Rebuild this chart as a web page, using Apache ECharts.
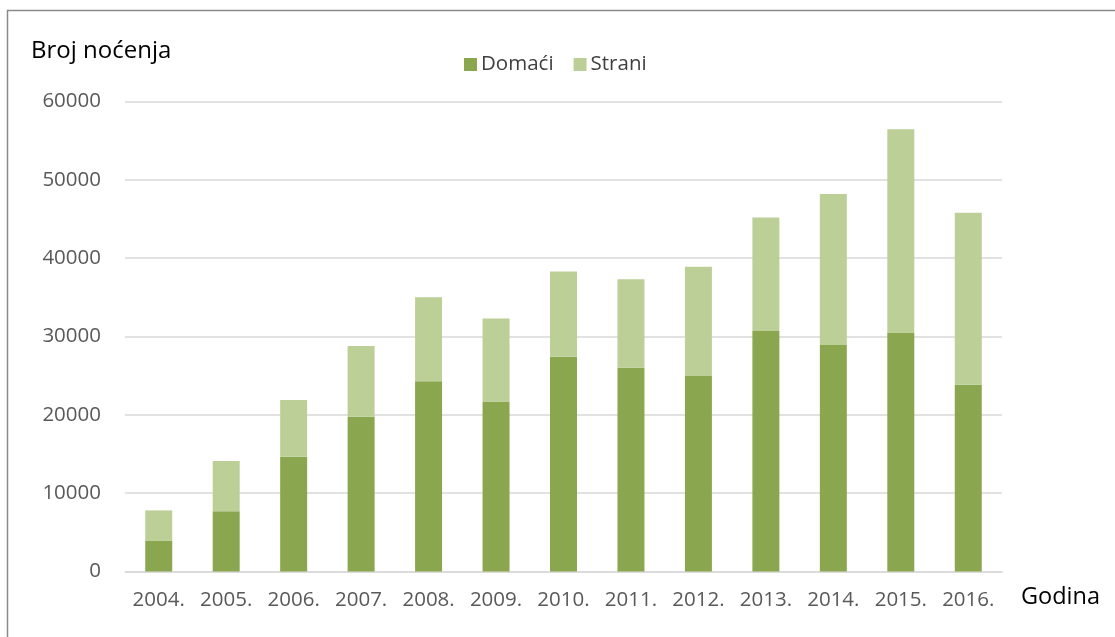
<!DOCTYPE html>
<html>
<head>
<meta charset="utf-8">
<script src="https://cdn.jsdelivr.net/npm/echarts@6/dist/echarts.min.js"></script>
<style>
html,body{margin:0;padding:0;background:#fff;}
#chart{width:1115px;height:637px;}
</style>
</head>
<body>
<div id="chart"></div>
<script>
const years = ['2004.','2005.','2006.','2007.','2008.','2009.','2010.','2011.','2012.','2013.','2014.','2015.','2016.'];
const domaci = [3900, 7700, 14650, 19750, 24300, 21700, 27400, 26000, 24950, 30700, 28900, 30500, 23850];
const strani = [3900, 6400, 7250, 9050, 10700, 10600, 10900, 11300, 13950, 14500, 19300, 25950, 21950];
const seriesNames = ['Domaći', 'Strani'];
const yTitle = 'Broj noćenja';
const xTitle = 'Godina';

const FONT = '"Open Sans", "Noto Sans", sans-serif';
const chart = echarts.init(document.getElementById('chart'), null, {renderer: 'canvas'});
chart.setOption({
  animation: false,
  backgroundColor: '#ffffff',
  grid: {left: 125, right: 113, top: 101.5, bottom: 65.5, containLabel: false},
  legend: {
    data: seriesNames,
    left: 459, top: 49,
    icon: 'rect', itemWidth: 13, itemHeight: 13, itemGap: 20,
    textStyle: {fontFamily: FONT, fontSize: 20.5, color: '#404040', padding: [0,0,0,-1]}
  },
  xAxis: {
    type: 'category', data: years,
    axisLine: {lineStyle: {color: '#d9d9d9', width: 1.5}},
    axisTick: {show: false},
    axisLabel: {fontFamily: FONT, fontSize: 20.5, color: '#595959', margin: 18, interval: 0, hideOverlap: false}
  },
  yAxis: {
    type: 'value', min: 0, max: 60000, interval: 10000,
    axisLine: {show: false}, axisTick: {show: false},
    splitLine: {lineStyle: {color: '#d9d9d9', width: 1.5}},
    axisLabel: {fontFamily: FONT, fontSize: 20.5, color: '#595959', margin: 24,
                formatter: function (v) { return String(v); }}
  },
  series: [
    {name: seriesNames[0], type: 'bar', stack: 'a', data: domaci, barWidth: '40%',
     itemStyle: {color: '#8aa64f'}},
    {name: seriesNames[1], type: 'bar', stack: 'a', data: strani, barWidth: '40%',
     itemStyle: {color: '#bbcf97'}}
  ],
  graphic: [
    {type: 'rect', shape: {x: 7.5, y: 10.5, width: 1200, height: 700}, style: {fill: 'none', stroke: '#8a8a8a', lineWidth: 1.5}, silent: true},
    {type: 'text', left: 31, top: 39, style: {text: yTitle, fontFamily: FONT, fontSize: 24, fill: '#000'}},
    {type: 'text', left: 1021, top: 585, style: {text: xTitle, fontFamily: FONT, fontSize: 23.5, fill: '#000'}}
  ]
});
</script>
</body>
</html>
